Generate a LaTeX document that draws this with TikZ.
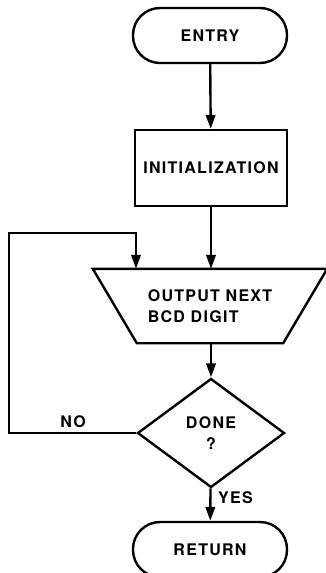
\documentclass[tikz,border=0pt]{standalone}
\usepackage{fontspec}
\usetikzlibrary{shapes.geometric,arrows.meta}
\newfontfamily\lblfont[LetterSpace=8]{TeX Gyre Heros}
\tikzset{
  x=1pt, y=-1pt,
  every node/.style={font=\lblfont\bfseries\fontsize{16}{21}\selectfont, inner sep=0pt},
  line/.style={line width=2.4pt, line join=miter},
  arr/.style={line, -{Triangle[length=14pt,width=9.5pt]}},
  term/.style={draw, line width=2.4pt, rounded corners=27pt, minimum width=154pt, minimum height=55pt},
  procbox/.style={draw, line width=2.4pt, minimum width=152pt, minimum height=76pt},
  decide/.style={draw, line width=2.4pt, diamond, aspect=1.35, minimum width=147pt, minimum height=109pt},
}
\begin{document}
\begin{tikzpicture}
\useasboundingbox (0,0) rectangle (326,573);
\node[term] (entry) at (210,35.5) {ENTRY};
\node[procbox] (init) at (211,168) {INITIALIZATION};
\node[minimum width=234pt, minimum height=74pt, align=left] (out) at (210,306) {OUTPUT NEXT\\BCD DIGIT};
\draw[line] (out.north west) -- (out.north east) -- ([xshift=-44pt]out.south east) -- ([xshift=44pt]out.south west) -- cycle;
\node[decide, align=center] (done) at (211,433) {DONE\\?};
\node[term] (ret) at (210,549.5) {RETURN};
\coordinate (lt) at (9,233);
\coordinate (rt) at (136,233);
\draw[arr] (entry) -- (init);
\draw[arr] (init) -- (init.south |- out.north);
\draw[arr] (out.south -| done.north) -- (done.north);
\draw[arr] (done) -- (ret);
\draw[arr] (done.west) -| (lt) -- (rt) -- (rt |- out.north);
\node[anchor=south] (no) at (73,428) {NO};
\node[anchor=west] (yes) at (218,498) {YES};
\end{tikzpicture}
\end{document}
